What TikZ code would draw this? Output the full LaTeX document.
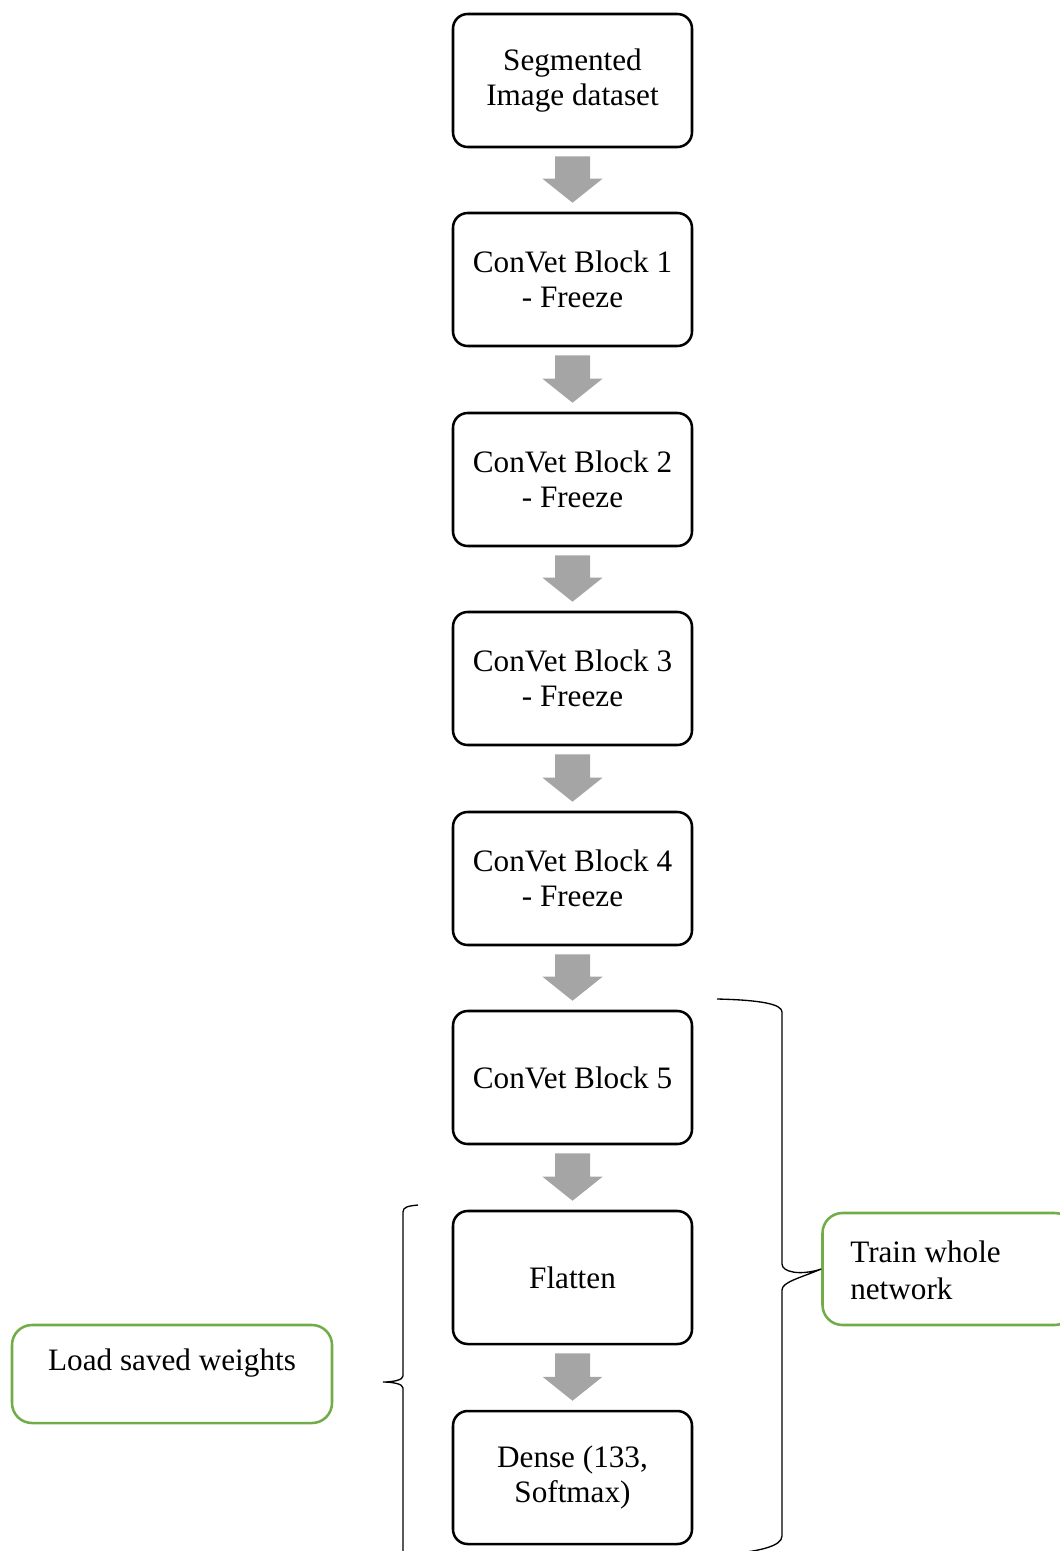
\documentclass[tikz,border=0pt]{standalone}
\usepackage{fontspec}
\setmainfont{Liberation Serif}
\usetikzlibrary{calc}
\definecolor{arrowgray}{HTML}{A5A5A5}
\definecolor{notegreen}{HTML}{70AD47}
\tikzset{
  stage/.style={draw=black, line width=1.9pt, rounded corners=11pt,
    minimum width=179.25pt, minimum height=99.75pt, inner sep=0pt,
    align=center, font=\fontsize{23.4}{26}\selectfont},
  notebox/.style={draw=notegreen, line width=1.9pt, rounded corners=15pt, inner sep=0pt},
  notetext/.style={inner sep=0pt, font=\fontsize{23.4}{27.5}\selectfont},
  brace/.style={draw=black, line width=1pt},
  flow/.style={fill=arrowgray}
}
% thick block arrow from the bottom of one stage to the top of the next
\newcommand\flowarrow[2]{%
  \fill[flow] ($(#1.south)+(-17.5,8)$) -- ($(#1.south)+(17.5,8)$)
    -- ($(#2.north)+(17.5,-33)$) -- ($(#2.north)+(30,-33)$)
    -- ($(#2.north)+(0,-9)$)
    -- ($(#2.north)+(-30,-33)$) -- ($(#2.north)+(-17.5,-33)$) -- cycle;}
\begin{document}
\begin{tikzpicture}[x=0.75pt, y=-0.75pt]
\useasboundingbox (0,0) rectangle (1059,1551);

% pipeline stages
\node[stage] (s0) at (572.5,80.5)  {Segmented\\Image dataset};
\node[stage] (s1) at (572.5,279.5) {ConVet Block 1\\- Freeze};
\node[stage] (s2) at (572.5,479.5) {ConVet Block 2\\- Freeze};
\node[stage] (s3) at (572.5,678.5) {ConVet Block 3\\- Freeze};
\node[stage] (s4) at (572.5,878.5) {ConVet Block 4\\- Freeze};
\node[stage] (s5) at (572.5,1077.5) {ConVet Block 5};
\node[stage] (s6) at (572.5,1277.5) {Flatten};
\node[stage] (s7) at (572.5,1477.5) {Dense (133,\\Softmax)};

\flowarrow{s0}{s1}
\flowarrow{s1}{s2}
\flowarrow{s2}{s3}
\flowarrow{s3}{s4}
\flowarrow{s4}{s5}
\flowarrow{s5}{s6}
\flowarrow{s6}{s7}

% annotation boxes
\node[notebox, minimum width=189pt, minimum height=84pt] (train) at (948.5,1269) {};
\node[notetext, anchor=west, align=left] (traintext) at (850,1270) {Train whole\\network};
\node[notebox, minimum width=240pt, minimum height=73.5pt] (load) at (172,1374) {};
\node[notetext, anchor=base] (loadtext) at (172,1370) {Load saved weights};

% right brace: Block 5 to Dense
\coordinate (rtip) at (train.west);
\draw[brace] (717,999) .. controls (760,1000) and (782,1004) .. (782,1012)
  -- (782,1264) .. controls (782,1272) and (800,1276) .. (rtip)
  .. controls (800,1278) and (782,1282) .. (782,1290)
  -- (782,1536) .. controls (782,1546) and (760,1552) .. (717,1555);

% left brace: Flatten to Dense
\coordinate (ltip) at (383,1382);
\draw[brace] (418,1205) .. controls (408,1206) and (403,1207) .. (403,1212)
  -- (403,1376) .. controls (403,1380) and (393,1382) .. (ltip)
  .. controls (393,1382) and (403,1384) .. (403,1388)
  -- (403,1560);
\end{tikzpicture}
\end{document}
